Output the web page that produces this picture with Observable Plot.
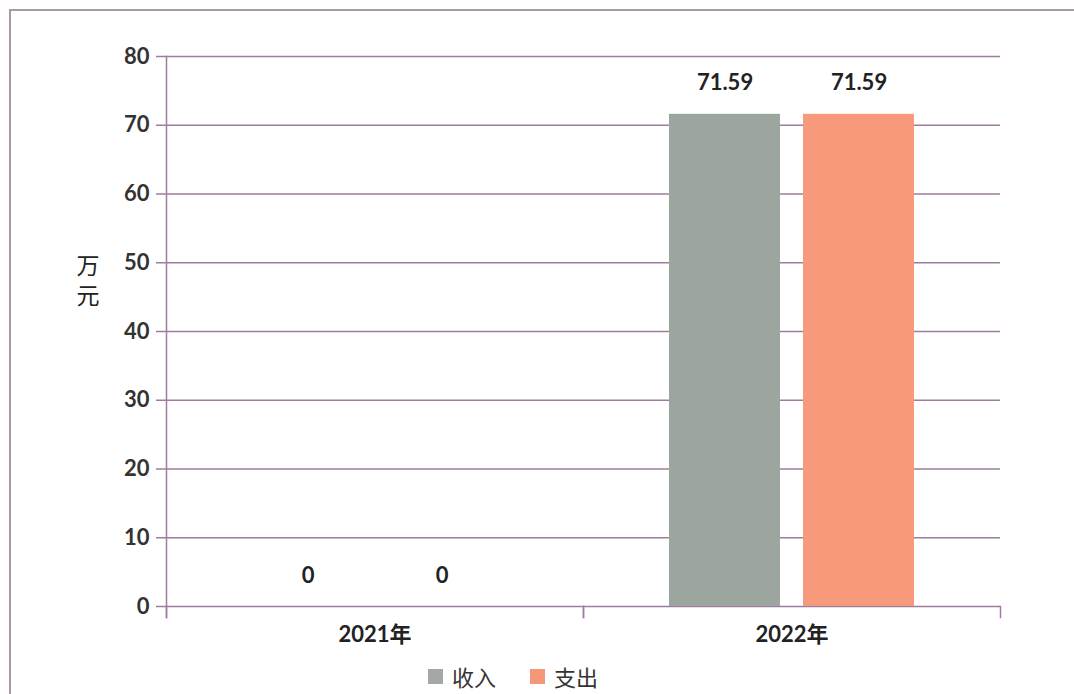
<!DOCTYPE html>
<html>
<head>
<meta charset="utf-8">
<script src="https://cdn.jsdelivr.net/npm/d3@7"></script>
<script src="https://cdn.jsdelivr.net/npm/@observablehq/plot@0.6"></script>
<style>
  html, body { margin: 0; padding: 0; background: #fff; }
  body { width: 1074px; height: 694px; position: relative; overflow: hidden;
         font-family: Lato, "Noto Sans CJK SC", sans-serif; }
  #border { position: absolute; left: 9px; top: 9px; width: 1100px; height: 720px;
            border-left: 2px solid #ab95ab; border-top: 2px solid #a99aa9; }
  #chart { position: absolute; left: 0; top: 0; }
  #ylabel { position: absolute; left: 75px; top: 254px; font-size: 23px; line-height: 25px;
            writing-mode: vertical-rl; text-orientation: upright; letter-spacing: 7px;
            color: #222; font-family: "Noto Sans CJK SC", sans-serif; }
  #legend { position: absolute; left: 428px; top: 660px; display: flex; align-items: center;
            font-size: 22px; color: #333; font-family: "Noto Sans CJK SC", sans-serif; }
  #legend .sw { display: inline-block; width: 15px; height: 15px; margin-right: 9px; }
  #legend .item { display: flex; align-items: center; margin-right: 34px; }
</style>
</head>
<body>
<div id="border"></div>
<div id="chart"></div>
<div id="ylabel">万元</div>
<div id="legend"></div>
<script>
const years = ["2021年", "2022年"];
const seriesNames = ["收入", "支出"];
const income = [0, 71.59];
const expense = [0, 71.59];
const yTicks = [0, 10, 20, 30, 40, 50, 60, 70, 80];
const colors = ["#9ca69f", "#f79a7b"];

const data = [];
years.forEach((y, i) => {
  data.push({year: y, series: seriesNames[0], value: income[i]});
  data.push({year: y, series: seriesNames[1], value: expense[i]});
});

const purple = "#9e7c9e";
const chart = Plot.plot({
  width: 1074,
  height: 660,
  marginLeft: 166,
  marginRight: 74,
  marginTop: 56,
  marginBottom: 54,
  style: {fontFamily: 'Lato, "Noto Sans CJK SC", sans-serif', background: "transparent"},
  fx: {domain: years, padding: 0, label: null},
  x: {domain: seriesNames, paddingInner: 0.17, paddingOuter: 0.635, axis: null},
  y: {domain: [0, 80], label: null},
  color: {domain: seriesNames, range: colors},
  marks: [
    Plot.ruleY(yTicks, {stroke: purple, strokeWidth: 1.5}),
    Plot.frame({anchor: "left", fx: [years[0]], stroke: purple, strokeWidth: 1.5, insetBottom: -11}),
    Plot.frame({anchor: "left", stroke: purple, strokeWidth: 1.5, insetTop: 550, insetBottom: -11}),
    Plot.frame({anchor: "right", stroke: purple, strokeWidth: 1.5, insetTop: 550, insetBottom: -11}),
    Plot.barY(data, {fx: "year", x: "series", y: "value", fill: "series"}),
    Plot.text(data, {fx: "year", x: "series", y: "value", text: d => String(d.value),
      dy: -31, fontSize: 22, fontWeight: "bold", fill: "#222"}),
    Plot.axisY({ticks: yTicks, tickSize: 10, tickPadding: 7, tickFormat: d => String(d),
      fontSize: 22, fontWeight: "bold", stroke: purple, strokeWidth: 1.5, fill: "#333", label: null}),
    Plot.axisFx({anchor: "bottom", tickSize: 0, tickPadding: 20, fontSize: 22,
      fontWeight: "bold", fill: "#222", label: null})
  ]
});
document.getElementById("chart").appendChild(chart);

const legend = document.getElementById("legend");
seriesNames.forEach((s, i) => {
  const item = document.createElement("span");
  item.className = "item";
  const sw = document.createElement("span");
  sw.className = "sw";
  sw.style.background = i === 0 ? "#a3a8a5" : "#f59679";
  item.appendChild(sw);
  item.appendChild(document.createTextNode(s));
  legend.appendChild(item);
});
</script>
</body>
</html>
